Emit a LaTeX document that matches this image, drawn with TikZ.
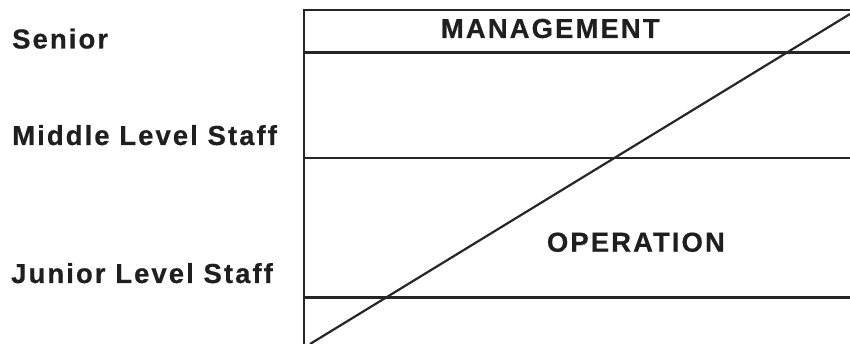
\documentclass[tikz,border=0pt]{standalone}
\usepackage{fontspec}
\setmainfont{Liberation Sans}
\newfontfamily\lblfont{Liberation Sans Bold}[LetterSpace=7.5,FakeBold=0.5]
\begin{document}
\begin{tikzpicture}[x=1pt,y=-1pt,
  rule/.style={line width=2.2pt,draw=black!85},
  lbl/.style={inner sep=0pt,anchor=base west,font=\lblfont\fontsize{27.5}{32}\selectfont,text=black!88}]
\useasboundingbox (0,0) rectangle (850,344);
% frame coordinates
\coordinate (tl) at (304,10);
\coordinate (tr) at (850,10);
\coordinate (bl) at (304,344);
\coordinate (m1l) at (304,52.5);
\coordinate (m1r) at (850,52.5);
\coordinate (m2l) at (304,158.3);
\coordinate (m2r) at (850,158.3);
\coordinate (m3l) at (304,297.5);
\coordinate (m3r) at (850,297.5);
\coordinate (dstart) at (310,344);
\coordinate (dend) at (850,14);
\draw[rule] (bl) -- (tl) -- (tr);
\draw[rule] (m1l) -- (m1r);
\draw[rule] (m2l) -- (m2r);
\draw[rule] (m3l) -- (m3r);
\draw[rule] (dstart) -- (dend);
% labels
\node[lbl] (senior) at (12,48.5) {Senior};
\node[lbl] (middle) at (12,145) {Middle Level Staff};
\node[lbl] (junior) at (11,283) {Junior Level Staff};
\node[lbl] (mgmt) at (440.7,38) {MANAGEMENT};
\node[lbl] (oper) at (546.7,251.7) {OPERATION};
\end{tikzpicture}
\end{document}
